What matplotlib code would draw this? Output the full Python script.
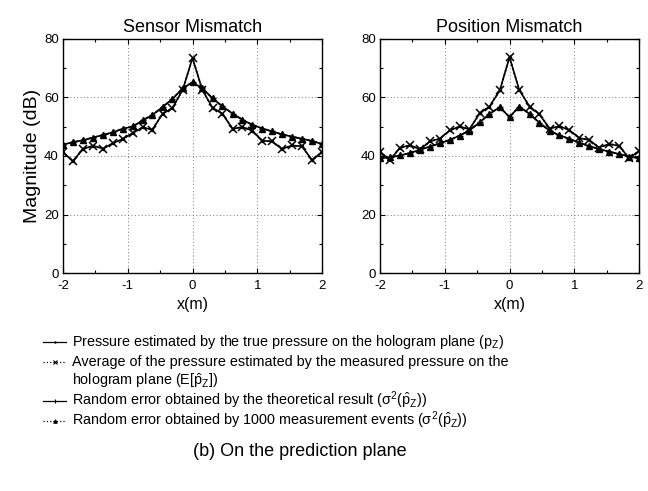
import matplotlib
matplotlib.use("Agg")
import matplotlib.pyplot as plt
from matplotlib.ticker import MultipleLocator
from matplotlib import font_manager

# ---- data -------------------------------------------------------------
x_pos = [-2.00, -1.85, -1.69, -1.54, -1.38, -1.23, -1.08, -0.92, -0.77,
         -0.62, -0.46, -0.31, -0.15, 0.00, 0.15, 0.31, 0.46, 0.62, 0.77,
         0.92, 1.08, 1.23, 1.38, 1.54, 1.69, 1.85, 2.00]

# Sensor mismatch
sensor_true = [41.3, 38.2, 42.4, 43.5, 42.5, 44.4, 45.8, 47.9, 49.8, 49.0,
               54.5, 56.4, 62.7, 73.5, 62.7, 56.4, 54.5, 49.3, 49.9, 48.7,
               45.2, 45.0, 42.4, 43.6, 43.3, 38.5, 41.5]
sensor_avg = [41.3, 38.2, 42.4, 43.5, 42.5, 44.4, 45.8, 47.9, 49.8, 49.0,
              54.5, 56.4, 62.7, 73.5, 62.7, 56.4, 54.5, 49.3, 49.9, 48.7,
              45.2, 45.0, 42.4, 43.6, 43.3, 38.5, 41.5]
sensor_theory = [43.9, 44.7, 45.4, 46.3, 47.2, 48.1, 49.3, 50.1, 52.2, 54.0,
                 56.8, 59.5, 63.2, 65.2, 63.2, 59.7, 57.0, 54.5, 52.4, 50.7,
                 49.4, 48.4, 47.4, 46.6, 45.9, 45.1, 44.1]
sensor_events = [43.9, 44.7, 45.4, 46.3, 47.2, 48.1, 49.3, 50.1, 52.2, 54.0,
                 56.8, 59.5, 63.2, 65.2, 63.2, 59.7, 57.0, 54.5, 52.4, 50.7,
                 49.4, 48.4, 47.4, 46.6, 45.9, 45.1, 44.1]

# Position mismatch
position_true = [41.5, 38.6, 42.8, 43.7, 42.3, 45.0, 45.9, 48.8, 50.1, 49.1,
                 54.6, 56.9, 62.4, 73.8, 62.6, 56.9, 54.3, 49.4, 50.2, 48.9,
                 46.1, 45.5, 42.9, 44.1, 43.5, 39.2, 41.8]
position_avg = [41.5, 38.6, 42.8, 43.7, 42.3, 45.0, 45.9, 48.8, 50.1, 49.1,
                54.6, 56.9, 62.4, 73.8, 62.6, 56.9, 54.3, 49.4, 50.2, 48.9,
                46.1, 45.5, 42.9, 44.1, 43.5, 39.2, 41.8]
position_theory = [39.2, 39.5, 40.2, 41.0, 42.2, 43.2, 44.3, 45.5, 47.0, 48.7,
                   51.5, 54.4, 56.7, 53.3, 56.9, 54.4, 51.4, 48.6, 47.1, 45.9,
                   44.5, 43.4, 42.4, 41.5, 40.7, 39.8, 39.2]
position_events = [39.2, 39.5, 40.2, 41.0, 42.2, 43.2, 44.3, 45.5, 47.0, 48.7,
                   51.5, 54.4, 56.7, 53.3, 56.9, 54.4, 51.4, 48.6, 47.1, 45.9,
                   44.5, 43.4, 42.4, 41.5, 40.7, 39.8, 39.2]

panel_titles = ["Sensor Mismatch", "Position Mismatch"]
x_ticks = [-2, -1, 0, 1, 2]
x_tick_labels = ["-2", "-1", "0", "1", "2"]
y_ticks = [0, 20, 40, 60, 80]

legend_labels = [
    "Pressure estimated by the true pressure on the hologram plane $(p_Z)$",
    "Average of the pressure estimated by the measured pressure on the\n"
    "hologram plane $(E[\\hat{p}_Z])$",
    "Random error obtained by the theoretical result $(\\sigma^2(\\hat{p}_Z))$",
    "Random error obtained by 1000 measurement events $(\\sigma^2(\\hat{p}_Z))$",
]
caption = "(b) On the prediction plane"

# ---- fonts ------------------------------------------------------------
available = {f.name for f in font_manager.fontManager.ttflist}
narrow = "Liberation Sans Narrow" if "Liberation Sans Narrow" in available else "Liberation Sans"
plt.rcParams["font.family"] = ["Liberation Sans", "DejaVu Sans"]
plt.rcParams["mathtext.fontset"] = "custom"
plt.rcParams["mathtext.rm"] = narrow
plt.rcParams["mathtext.it"] = narrow
plt.rcParams["mathtext.bf"] = narrow

W, H = 648, 491
fig = plt.figure(figsize=(W / 100, H / 100), dpi=100)

styles = [
    dict(ls="-", marker=".", ms=3, lw=1.2),
    dict(ls=":", marker="x", ms=5.5, mew=1.1, lw=1.2),
    dict(ls="-", marker="+", ms=4, lw=1.2),
    dict(ls="--", dashes=(2.5, 1.2), marker="^", ms=4.2, lw=1.2),
]

panels = [
    (sensor_true, sensor_avg, sensor_theory, sensor_events),
    (position_true, position_avg, position_theory, position_events),
]
lefts = [63, 380]
for i, (left, series) in enumerate(zip(lefts, panels)):
    ax = fig.add_axes([left / W, 1 - 273 / H, 259 / W, 234 / H])
    for ys, st in zip(series, styles):
        ax.plot(x_pos, ys, color="black", **st)
    ax.set_xlim(-2, 2)
    ax.set_ylim(0, 80)
    ax.set_xticks(x_ticks)
    ax.set_xticklabels(x_tick_labels)
    ax.set_yticks(y_ticks)
    ax.xaxis.set_minor_locator(MultipleLocator(0.5))
    ax.yaxis.set_minor_locator(MultipleLocator(10))
    ax.tick_params(which="both", direction="in", top=True, right=True,
                   labelsize=9.5, width=0.8)
    ax.tick_params(axis="x", pad=5)
    ax.tick_params(axis="y", pad=3)
    ax.tick_params(which="major", length=3.5)
    ax.tick_params(which="minor", length=2.5)
    ax.grid(True, which="major", ls=(0, (1, 2.5)), color="#777777", lw=0.7)
    for s in ax.spines.values():
        s.set_linewidth(1.0)
    ax.set_title(panel_titles[i], fontsize=13, pad=5)
    ax.set_xlabel("x(m)", fontsize=11.5, labelpad=4)
    if i == 0:
        ax.set_ylabel("Magnitude (dB)", fontsize=14, labelpad=2)

# ---- legend block -----------------------------------------------------
leg = fig.add_axes([0, 0, 1, 1])
leg.set_xlim(0, W)
leg.set_ylim(H, 0)
leg.axis("off")
row_y = [342, 362, 401, 421]
for y, st, lab in zip(row_y, styles, legend_labels):
    line_ls = ":" if st["ls"] == "--" else st["ls"]
    leg.plot([43, 66], [y, y], color="black", ls=line_ls, lw=0.9)
    leg.plot([54.5], [y], color="black", ls="none", marker=st["marker"],
             ms=st["ms"] * 0.6, mew=0.8)
    first, _, rest = lab.partition("\n")
    leg.text(72, y + 4, first, fontsize=10.4, family=[narrow, "DejaVu Sans"],
             va="baseline", ha="left")
    if rest:
        leg.text(72, y + 23, rest, fontsize=10.4, family=[narrow, "DejaVu Sans"],
                 va="baseline", ha="left")

leg.text(300, 451, caption, fontsize=13, family=[narrow, "DejaVu Sans"],
         ha="center", va="center")

fig.savefig("out.png", dpi=100)
